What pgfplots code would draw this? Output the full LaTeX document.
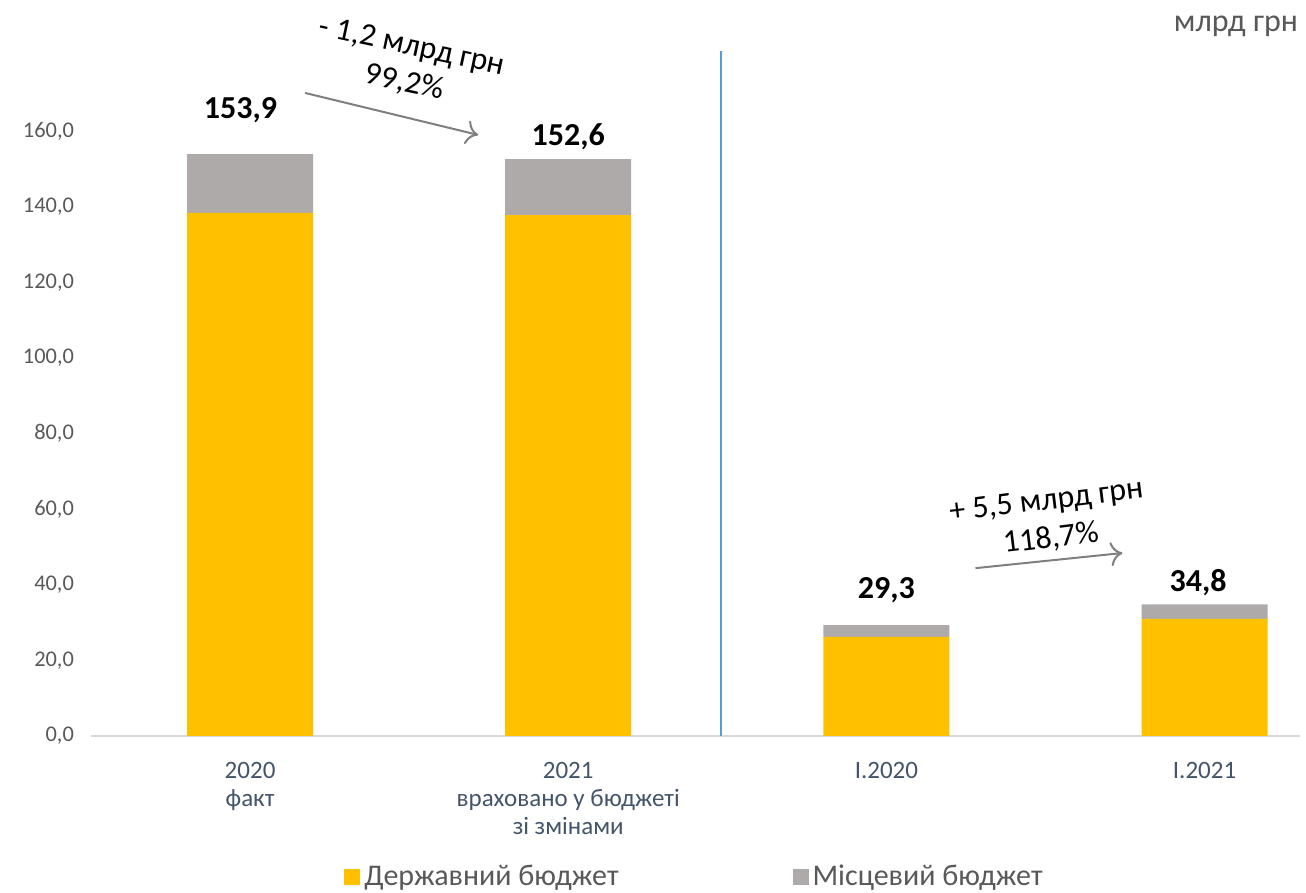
\documentclass[border=0pt]{standalone}
\usepackage{fontspec}
\setmainfont{Carlito}
\usepackage{pgfplots}
\pgfplotsset{compat=1.18}
\usetikzlibrary{arrows.meta}
\definecolor{stateY}{HTML}{FFC000}
\definecolor{localG}{HTML}{AEAAAA}
\definecolor{tickc}{HTML}{595959}
\definecolor{xlab}{HTML}{44546A}
\definecolor{sepc}{HTML}{5B9BD5}
\definecolor{arrc}{HTML}{7F7F7F}
\begin{document}
\begin{tikzpicture}
\path[use as bounding box] (0pt,0pt) rectangle (653pt,446.5pt);
\begin{axis}[
  at={(45.5pt,78.5pt)}, anchor=south west,
  width=604.5pt, height=342.5pt, scale only axis,
  xmin=-0.5, xmax=3.3, ymin=0, ymax=181.2,
  ybar stacked, bar width=63pt,
  clip=false,
  axis x line*=bottom, axis y line*=left,
  axis line style={-},
  x axis line style={draw=black!15, line width=1pt},
  y axis line style={draw=none},
  major tick length=0pt,
  xtick={0,1,2,3},
  xticklabels={{2020\\факт},{2021\\враховано у бюджеті\\зі змінами},{I.2020},{I.2021}},
  xticklabel style={align=center, font=\fontsize{12.5}{14}\selectfont, text=xlab, yshift=-9.5pt},
  ytick={0,20,...,160},
  yticklabel style={font=\fontsize{11.2}{14}\selectfont, text=tickc, xshift=-5pt,
    /pgf/number format/fixed, /pgf/number format/fixed zerofill,
    /pgf/number format/precision=1, /pgf/number format/use comma,
    /pgf/number format/assume math mode=true},
  legend columns=2,
  legend style={at={(0.5,-0.205)}, anchor=center, draw=none,
    font=\fontsize{15}{18}\selectfont, text=tickc,
    /tikz/every even column/.append style={column sep=85pt}},
]
\addplot[fill=stateY, draw=none,
  legend image code/.code={\fill[stateY] (0pt,-4.5pt) rectangle (8pt,3.5pt);}]
  coordinates {(0,138.4) (1,137.8) (2,26.2) (3,31.0)};
\addlegendentry{Державний бюджет}
\addplot[fill=localG, draw=none,
  legend image code/.code={\fill[localG] (0pt,-4.5pt) rectangle (8pt,3.5pt);}]
  coordinates {(0,15.5) (1,14.8) (2,3.1) (3,3.8)};
\addlegendentry{Місцевий бюджет}
\draw[sepc, line width=0.8pt] (axis cs:1.481,0) -- (axis cs:1.481,181.2);
\node[font=\bfseries\fontsize{16}{19}\selectfont] at (axis cs:-0.03,165.6) {153,9};
\node[font=\bfseries\fontsize{16}{19}\selectfont] at (axis cs:1.0,158.4) {152,6};
\node[font=\bfseries\fontsize{16}{19}\selectfont] at (axis cs:2.0,38.6) {29,3};
\node[font=\bfseries\fontsize{16}{19}\selectfont] at (axis cs:2.98,40.7) {34,8};
\draw[arrc, line width=1pt, -{To[length=6pt,width=12pt]}] (axis cs:0.173,170.1) -- (axis cs:0.717,159.0);
\draw[arrc, line width=1pt, -{To[length=6pt,width=12pt]}] (axis cs:2.28,44.4) -- (axis cs:2.742,48.4);
\node[rotate=-12, align=center, font=\fontsize{16}{18.5}\selectfont] at (axis cs:0.497,177.5) {- 1,2 млрд грн\\99,2\%};
\node[rotate=7, align=center, font=\fontsize{16}{19}\selectfont] at (axis cs:2.51,57.1) {+ 5,5 млрд грн\\118,7\%};
\end{axis}
\node[text=tickc, font=\fontsize{16}{19}\selectfont] at (618pt,433.5pt) {млрд грн};
\end{tikzpicture}
\end{document}
